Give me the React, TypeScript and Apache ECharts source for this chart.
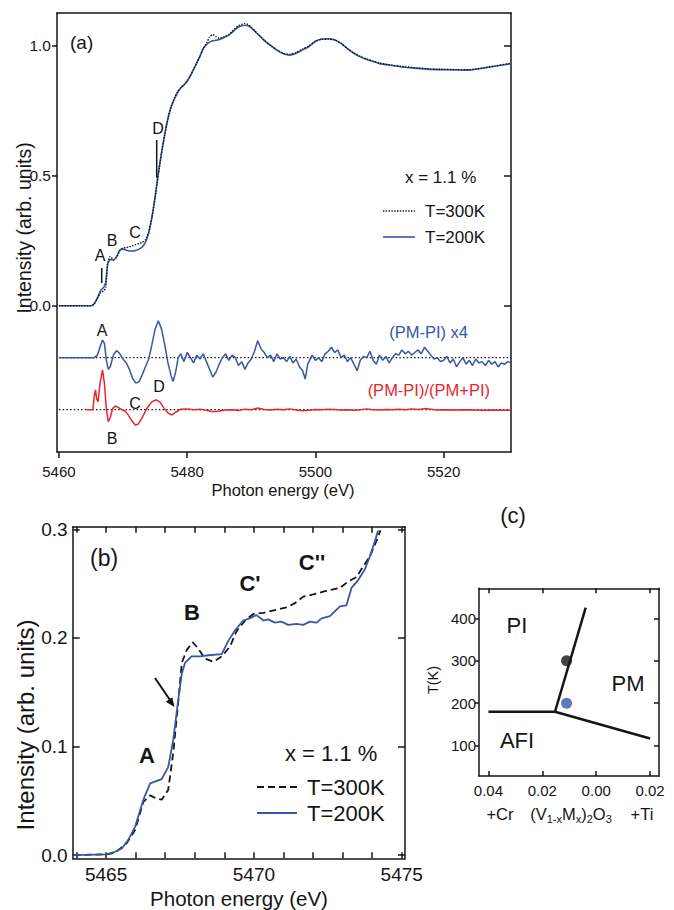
import React, { useEffect, useRef } from "react";
import * as echarts from "echarts";

// ---------- Panel (a): XANES spectra (energy eV, intensity) ----------
const spec200A: [number, number][] = [
  [5460, 0], [5465, 0], [5465.5, 0.008], [5466, 0.03], [5466.5, 0.058], [5467, 0.072], [5467.3, 0.09],
  [5467.6, 0.16], [5468, 0.178], [5468.5, 0.176], [5469, 0.19], [5469.5, 0.215], [5470, 0.218],
  [5470.5, 0.214], [5471, 0.211], [5471.5, 0.211], [5472, 0.213], [5472.5, 0.218], [5473, 0.226],
  [5473.5, 0.245], [5474, 0.28], [5474.5, 0.34], [5475, 0.42], [5475.5, 0.51], [5476, 0.59],
  [5476.5, 0.66], [5477, 0.72], [5477.5, 0.765], [5478, 0.795], [5478.5, 0.82], [5479, 0.838],
  [5479.5, 0.85], [5480, 0.864], [5480.5, 0.885], [5481, 0.91], [5481.5, 0.935], [5482, 0.96],
  [5482.5, 0.99], [5483, 1.005], [5483.5, 1.015], [5484, 1.02], [5484.5, 1.022], [5485, 1.025],
  [5485.5, 1.03], [5486, 1.036], [5486.5, 1.042], [5487, 1.052], [5487.5, 1.064], [5488, 1.073],
  [5488.5, 1.078], [5489, 1.08], [5489.5, 1.078], [5490, 1.07], [5490.5, 1.058], [5491, 1.046],
  [5491.5, 1.034], [5492, 1.022], [5493, 1.002], [5494, 0.984], [5495, 0.97], [5496, 0.965],
  [5497, 0.972], [5498, 0.985], [5499, 0.998], [5500, 1.018], [5501, 1.027], [5502, 1.028],
  [5503, 1.024], [5504, 1.01], [5505, 0.99], [5506, 0.972], [5507, 0.958], [5508, 0.948],
  [5509, 0.94], [5510, 0.932], [5512, 0.925], [5514, 0.918], [5516, 0.914], [5518, 0.91],
  [5520, 0.909], [5522, 0.908], [5524, 0.907], [5526, 0.914], [5528, 0.922], [5530.5, 0.932],
];

const spec300A: [number, number][] = [
  [5460, 0], [5465, 0], [5465.5, 0.007], [5466, 0.028], [5466.5, 0.05], [5467, 0.058], [5467.3, 0.07],
  [5467.6, 0.16], [5468, 0.19], [5468.5, 0.177], [5469, 0.186], [5469.5, 0.212], [5470, 0.222],
  [5470.5, 0.224], [5471, 0.227], [5471.5, 0.231], [5472, 0.236], [5472.5, 0.24], [5473, 0.244],
  [5473.5, 0.255], [5474, 0.285], [5474.5, 0.34], [5475, 0.415], [5475.5, 0.505], [5476, 0.585],
  [5476.5, 0.658], [5477, 0.722], [5477.5, 0.768], [5478, 0.8], [5478.5, 0.824], [5479, 0.84],
  [5479.5, 0.852], [5480, 0.866], [5480.5, 0.886], [5481, 0.91], [5481.5, 0.935], [5482, 0.962],
  [5482.5, 0.99], [5483, 1.01], [5483.5, 1.035], [5484, 1.044], [5484.5, 1.036], [5485, 1.03],
  [5485.5, 1.032], [5486, 1.037], [5486.5, 1.044], [5487, 1.056], [5487.5, 1.068], [5488, 1.078],
  [5488.5, 1.083], [5489, 1.087], [5489.5, 1.082], [5490, 1.072], [5490.5, 1.06], [5491, 1.046],
  [5491.5, 1.034], [5492, 1.022], [5493, 1.002], [5494, 0.985], [5495, 0.972], [5496, 0.968],
  [5497, 0.975], [5498, 0.988], [5499, 1.0], [5500, 1.018], [5501, 1.026], [5502, 1.026],
  [5503, 1.023], [5504, 1.01], [5505, 0.99], [5506, 0.973], [5507, 0.96], [5508, 0.95],
  [5509, 0.942], [5510, 0.934], [5512, 0.926], [5514, 0.92], [5516, 0.915], [5518, 0.911],
  [5520, 0.91], [5522, 0.909], [5524, 0.909], [5526, 0.915], [5528, 0.923], [5530.5, 0.934],
];

// (PM-PI) x4, offset -0.2
const diffA: [number, number][] = [
  [5460, -0.2], [5465, -0.2], [5465.5, -0.2], [5466, -0.19], [5466.4, -0.16], [5466.8, -0.132],
  [5467.1, -0.145], [5467.4, -0.21], [5467.7, -0.245], [5468, -0.235], [5468.5, -0.19], [5469, -0.172],
  [5469.5, -0.185], [5470, -0.205], [5470.5, -0.22], [5471, -0.245], [5471.5, -0.28], [5472, -0.298],
  [5472.5, -0.292], [5473, -0.265], [5473.5, -0.235], [5474, -0.205], [5474.5, -0.15], [5475, -0.09],
  [5475.5, -0.058], [5476, -0.09], [5476.5, -0.15], [5477, -0.22], [5477.5, -0.27], [5477.8, -0.292],
  [5478.2, -0.255], [5478.6, -0.2], [5479, -0.185], [5479.5, -0.215], [5480, -0.18], [5480.5, -0.2],
  [5481, -0.22], [5481.5, -0.19], [5482, -0.205], [5482.5, -0.185], [5483, -0.215], [5483.5, -0.245],
  [5484, -0.275], [5484.5, -0.255], [5485, -0.225], [5485.5, -0.2], [5486, -0.185], [5486.5, -0.21],
  [5487, -0.19], [5487.5, -0.2], [5488, -0.23], [5488.5, -0.215], [5489, -0.245], [5489.5, -0.22],
  [5490, -0.205], [5490.5, -0.175], [5491, -0.135], [5491.5, -0.165], [5492, -0.18], [5492.5, -0.2],
  [5493, -0.19], [5493.5, -0.215], [5494, -0.185], [5494.5, -0.205], [5495, -0.2], [5495.5, -0.215],
  [5496, -0.195], [5496.5, -0.22], [5497, -0.205], [5497.5, -0.235], [5498, -0.25], [5498.4, -0.282],
  [5498.8, -0.225], [5499.5, -0.19], [5500, -0.21], [5500.5, -0.2], [5501, -0.215], [5501.5, -0.185],
  [5502, -0.175], [5502.5, -0.16], [5503, -0.18], [5503.5, -0.17], [5504, -0.2], [5504.5, -0.19],
  [5505, -0.215], [5505.5, -0.2], [5506, -0.225], [5506.5, -0.25], [5507, -0.21], [5507.5, -0.195],
  [5508, -0.2], [5508.5, -0.175], [5509, -0.21], [5509.5, -0.225], [5510, -0.19], [5510.5, -0.21],
  [5511, -0.195], [5511.5, -0.22], [5512, -0.2], [5512.5, -0.185], [5513, -0.19], [5513.5, -0.17],
  [5514, -0.185], [5514.5, -0.175], [5515, -0.19], [5515.5, -0.18], [5516, -0.17], [5516.5, -0.185],
  [5517, -0.16], [5517.5, -0.175], [5518, -0.19], [5518.5, -0.205], [5519, -0.2], [5519.5, -0.215],
  [5520, -0.21], [5520.5, -0.195], [5521, -0.22], [5521.5, -0.205], [5522, -0.235], [5522.5, -0.215],
  [5523, -0.2], [5523.5, -0.225], [5524, -0.21], [5524.5, -0.23], [5525, -0.205], [5525.5, -0.22],
  [5526, -0.215], [5526.5, -0.23], [5527, -0.21], [5527.5, -0.225], [5528, -0.215], [5528.5, -0.235],
  [5529, -0.22], [5529.5, -0.225], [5530, -0.215], [5530.5, -0.22],
];

// (PM-PI)/(PM+PI), offset -0.4
const ratioA: [number, number][] = [
  [5464.3, -0.4], [5465.3, -0.4], [5465.5, -0.35], [5465.7, -0.324], [5465.9, -0.36], [5466.1, -0.37],
  [5466.4, -0.3], [5466.8, -0.247], [5467.1, -0.3], [5467.4, -0.4], [5467.7, -0.446], [5468, -0.43],
  [5468.4, -0.395], [5468.8, -0.386], [5469.3, -0.392], [5469.8, -0.4], [5470.3, -0.405], [5470.8, -0.42],
  [5471.3, -0.44], [5471.9, -0.459], [5472.4, -0.455], [5473, -0.43], [5473.5, -0.405], [5474, -0.385],
  [5474.5, -0.37], [5475.2, -0.362], [5475.8, -0.372], [5476.4, -0.395], [5477, -0.413], [5477.6, -0.42],
  [5478.2, -0.41], [5479, -0.398], [5480, -0.397], [5481, -0.4], [5482, -0.398], [5483, -0.402],
  [5484, -0.408], [5485, -0.405], [5486, -0.401], [5487, -0.4], [5488, -0.403], [5489, -0.398],
  [5490, -0.4], [5491, -0.394], [5492, -0.399], [5493, -0.401], [5494, -0.398], [5495, -0.4],
  [5496, -0.397], [5497, -0.401], [5498, -0.404], [5499, -0.402], [5500, -0.399], [5501, -0.4],
  [5502, -0.398], [5503, -0.399], [5504, -0.401], [5505, -0.4], [5506, -0.402], [5507, -0.4],
  [5508, -0.397], [5509, -0.4], [5510, -0.401], [5511, -0.399], [5512, -0.4], [5513, -0.398],
  [5514, -0.4], [5515, -0.397], [5516, -0.399], [5517, -0.396], [5518, -0.398], [5519, -0.401],
  [5520, -0.4], [5522, -0.401], [5524, -0.4], [5526, -0.402], [5528, -0.401], [5530.5, -0.402],
];

const baselineDiff: [number, number][] = [[5460, -0.2], [5530.5, -0.2]];
const baselineRatio: [number, number][] = [[5460, -0.4], [5530.5, -0.4]];

const xTicksA = [5460, 5480, 5500, 5520];
const yTicksA = [0, 0.5, 1.0];

// ---------- Panel (b): pre-edge zoom ----------
const spec200B: [number, number][] = [
  [5463.9, 0], [5465.0, 0.0006], [5465.3, 0.003], [5465.53, 0.006], [5465.75, 0.014], [5465.98, 0.026],
  [5466.26, 0.051], [5466.49, 0.066], [5466.88, 0.07], [5467.1, 0.081], [5467.27, 0.106], [5467.44, 0.143],
  [5467.56, 0.167], [5467.67, 0.177], [5467.89, 0.183], [5468.18, 0.183], [5468.46, 0.184], [5468.91, 0.185],
  [5469.13, 0.197], [5469.36, 0.207], [5469.64, 0.216], [5469.86, 0.218], [5470.09, 0.221], [5470.32, 0.216],
  [5470.48, 0.217], [5470.71, 0.214], [5470.93, 0.215], [5471.16, 0.212], [5471.44, 0.213], [5471.67, 0.212],
  [5471.89, 0.215], [5472.12, 0.214], [5472.29, 0.218], [5472.57, 0.22], [5472.91, 0.229], [5473.13, 0.23],
  [5473.3, 0.246], [5473.52, 0.253], [5473.75, 0.263], [5473.92, 0.275], [5474.09, 0.289], [5474.2, 0.299],
];
const spec300B: [number, number][] = [
  [5463.9, 0], [5465.0, 0.0006], [5465.3, 0.002], [5465.7, 0.011], [5465.98, 0.023], [5466.26, 0.049],
  [5466.49, 0.055], [5466.71, 0.052], [5466.88, 0.051], [5467.1, 0.06], [5467.27, 0.094], [5467.44, 0.141],
  [5467.56, 0.177], [5467.73, 0.189], [5467.93, 0.196], [5468.12, 0.19], [5468.34, 0.181], [5468.63, 0.178],
  [5468.91, 0.183], [5469.19, 0.192], [5469.41, 0.206], [5469.7, 0.216], [5469.98, 0.222], [5470.32, 0.223],
  [5470.77, 0.226], [5471.1, 0.228], [5471.39, 0.232], [5471.67, 0.238], [5472.0, 0.24], [5472.4, 0.243],
  [5472.91, 0.246], [5473.19, 0.252], [5473.47, 0.256], [5473.7, 0.266], [5473.92, 0.275], [5474.14, 0.289],
  [5474.28, 0.299],
];
const xTicksB = [5465, 5470, 5475];
const xMinorB = [5464, 5465, 5466, 5467, 5468, 5469, 5470, 5471, 5472, 5473, 5474, 5475];
const yTicksB = [0, 0.1, 0.2, 0.3];

// ---------- Panel (c): phase diagram ----------
const boundaryAFI: [number, number][] = [[-0.04, 180], [-0.0153, 180]];
const boundaryPIPM: [number, number][] = [[-0.0153, 180], [-0.0039, 425]];
const boundaryAFIPM: [number, number][] = [[-0.0153, 180], [0.02, 117]];
const point300: [number, number][] = [[-0.011, 300]];
const point200: [number, number][] = [[-0.011, 200]];
const xTicksC = [-0.04, -0.02, 0, 0.02];
const yTicksC = [100, 200, 300, 400];

const BLUE = "#3a56a8";
const RED = "#e8262c";
const INK = "#151515";
const FONT = "Liberation Sans, Arial, sans-serif";

function frameAxis(grid: number, pos: string, min: number, max: number, ticks: number[] | null, inside: boolean, len: number) {
  return {
    type: "value",
    gridIndex: grid,
    position: pos,
    min,
    max,
    axisLine: { show: true, onZero: false, lineStyle: { color: INK, width: 1.5 } },
    axisTick: ticks
      ? { show: true, inside, length: len, customValues: ticks, lineStyle: { color: INK, width: 1.5 } }
      : { show: false },
    axisLabel: { show: false },
    splitLine: { show: false },
  };
}

function labelAxis(grid: number, pos: string, min: number, max: number, ticks: number[], labels: number[], inside: boolean, len: number, fontSize: number, margin: number, fmt: (v: number) => string) {
  return {
    type: "value",
    gridIndex: grid,
    position: pos,
    min,
    max,
    axisLine: { show: true, onZero: false, lineStyle: { color: INK, width: 1.5 } },
    axisTick: { show: true, inside, length: len, customValues: ticks, lineStyle: { color: INK, width: 1.5 } },
    axisLabel: {
      show: true,
      customValues: labels,
      formatter: fmt,
      fontSize,
      fontFamily: FONT,
      color: INK,
      margin,
    },
    splitLine: { show: false },
  };
}

function txt(x: number, y: number, text: string, size: number, opts: any = {}) {
  const align = opts.align || "center";
  const valign = opts.valign || "middle";
  return {
    type: "text",
    x,
    y,
    rotation: opts.rotation || 0,
    z: 100,
    style: {
      text,
      fill: opts.color || INK,
      fontSize: size,
      fontFamily: FONT,
      fontWeight: opts.bold ? "bold" : "normal",
      align,
      verticalAlign: valign,
      textAlign: align,
      textVerticalAlign: valign,
      rich: opts.rich,
    },
  };
}

function seg(x1: number, y1: number, x2: number, y2: number, stroke: string, width: number, dash?: number[]) {
  return {
    type: "line",
    z: 100,
    shape: { x1, y1, x2, y2 },
    style: { stroke, lineWidth: width, lineDash: dash },
  };
}

export default function App() {
  const ref = useRef<HTMLDivElement>(null);

  useEffect(() => {
    if (!ref.current) return;
    const chart = echarts.init(ref.current, undefined, { renderer: "svg" });
    const fx1 = (v: number) => v.toFixed(1);
    const fx0 = (v: number) => String(Math.round(v));
    const fxC = (v: number) => Math.abs(v).toFixed(2);

    const option: any = {
      animation: false,
      backgroundColor: "#ffffff",
      grid: [
        { left: 57, top: 13, width: 454, height: 439 },
        { left: 72.7, top: 526.7, width: 332.3, height: 331.6 },
        { left: 479, top: 588.3, width: 180, height: 187.7 },
      ],
      xAxis: [
        labelAxis(0, "bottom", 5459.7, 5530.5, xTicksA, xTicksA, false, 6, 15, 12, fx0),
        frameAxis(0, "top", 5459.7, 5530.5, null, true, 0),
        labelAxis(1, "bottom", 5463.87, 5475.11, xMinorB, xTicksB, true, 6, 19, 7, fx0),
        frameAxis(1, "top", 5463.87, 5475.11, xMinorB, true, 6),
        labelAxis(2, "bottom", -0.0435, 0.0233, xTicksC, xTicksC, true, 5, 15, 7, fxC),
        frameAxis(2, "top", -0.0435, 0.0233, xTicksC, true, 5),
      ],
      yAxis: [
        labelAxis(0, "left", -0.563, 1.127, yTicksA, yTicksA, false, 5, 15.5, 6, fx1),
        frameAxis(0, "right", -0.563, 1.127, yTicksA, true, 7),
        labelAxis(1, "left", -0.003, 0.3024, yTicksB, yTicksB, true, 7, 19, 5, fx1),
        frameAxis(1, "right", -0.003, 0.3024, yTicksB, true, 7),
        labelAxis(2, "left", 28.7, 470.6, yTicksC, yTicksC, false, 4, 15, 3, fx0),
        frameAxis(2, "right", 28.7, 470.6, yTicksC, true, 5),
      ],
      series: [
        // panel (a)
        { type: "line", xAxisIndex: 0, yAxisIndex: 0, data: baselineDiff, showSymbol: false, lineStyle: { color: INK, width: 1.3, type: [1.5, 2.2] } },
        { type: "line", xAxisIndex: 0, yAxisIndex: 0, data: baselineRatio, showSymbol: false, lineStyle: { color: INK, width: 1.3, type: [1.5, 2.2] } },
        { type: "line", xAxisIndex: 0, yAxisIndex: 0, data: spec200A, showSymbol: false, smooth: 0.2, lineStyle: { color: BLUE, width: 1.6 } },
        { type: "line", xAxisIndex: 0, yAxisIndex: 0, data: spec300A, showSymbol: false, smooth: 0.2, lineStyle: { color: INK, width: 1.4, type: [1.4, 1.4] } },
        { type: "line", xAxisIndex: 0, yAxisIndex: 0, data: diffA, showSymbol: false, lineStyle: { color: BLUE, width: 1.5 } },
        { type: "line", xAxisIndex: 0, yAxisIndex: 0, data: ratioA, showSymbol: false, lineStyle: { color: RED, width: 1.5 } },
        // panel (b)
        { type: "line", xAxisIndex: 2, yAxisIndex: 2, data: spec300B, showSymbol: false, lineStyle: { color: INK, width: 1.8, type: [7, 4] } },
        { type: "line", xAxisIndex: 2, yAxisIndex: 2, data: spec200B, showSymbol: false, lineStyle: { color: BLUE, width: 1.8 } },
        // panel (c)
        { type: "line", xAxisIndex: 4, yAxisIndex: 4, data: boundaryAFI, showSymbol: false, lineStyle: { color: INK, width: 2.5 } },
        { type: "line", xAxisIndex: 4, yAxisIndex: 4, data: boundaryPIPM, showSymbol: false, lineStyle: { color: INK, width: 2.5 } },
        { type: "line", xAxisIndex: 4, yAxisIndex: 4, data: boundaryAFIPM, showSymbol: false, lineStyle: { color: INK, width: 2.5 } },
        { type: "scatter", xAxisIndex: 4, yAxisIndex: 4, data: point300, symbolSize: 11, itemStyle: { color: INK }, z: 5 },
        { type: "scatter", xAxisIndex: 4, yAxisIndex: 4, data: point200, symbolSize: 11, itemStyle: { color: BLUE }, z: 5 },
      ],
      graphic: [
        // panel (a) texts
        txt(24, 228, "Intensity (arb. units)", 19.5, { rotation: Math.PI / 2 }),
        txt(283, 490, "Photon energy (eV)", 16.5),
        txt(70, 42, "(a)", 19, { align: "left" }),
        txt(158, 128, "D", 16),
        seg(156.7, 140, 156.7, 177.7, INK, 1.5),
        txt(135, 232, "C", 16),
        txt(112, 240, "B", 16),
        txt(100, 255, "A", 16),
        seg(101.7, 268, 101.7, 283, INK, 1.5),
        txt(405, 177, "x = 1.1 %", 17, { align: "left" }),
        seg(383, 211, 415, 211, INK, 1.4, [1.4, 1.4]),
        txt(425, 211, "T=300K", 17, { align: "left" }),
        seg(383, 237, 415, 237, BLUE, 1.6),
        txt(425, 237, "T=200K", 17, { align: "left" }),
        txt(468, 332, "(PM-PI) x4", 16.5, { align: "right", color: BLUE }),
        txt(490, 390, "(PM-PI)/(PM+PI)", 16.5, { align: "right", color: RED }),
        txt(102, 330, "A", 16),
        txt(159, 386, "D", 16),
        txt(135, 403, "C", 16),
        txt(112, 438, "B", 16),
        // panel (b) texts
        txt(25, 725, "Intensity (arb. units)", 24, { rotation: Math.PI / 2 }),
        txt(239, 898, "Photon energy (eV)", 20.5),
        txt(90, 558, "(b)", 23, { align: "left" }),
        txt(147, 755, "A", 22, { bold: true }),
        txt(192, 612, "B", 22, { bold: true }),
        txt(250, 583, "C'", 22, { bold: true }),
        txt(312, 562, "C''", 22, { bold: true }),
        seg(155, 678, 170, 700, INK, 2),
        { type: "polygon", z: 100, shape: { points: [[174.5, 707], [172.3, 697.3], [165.7, 701.7]] }, style: { fill: INK } },
        txt(285, 753, "x = 1.1 %", 22, { align: "left" }),
        seg(257, 787, 297, 787, INK, 1.8, [7, 4]),
        txt(307, 787, "T=300K", 22, { align: "left" }),
        seg(257, 813, 297, 813, BLUE, 1.8),
        txt(307, 813, "T=200K", 22, { align: "left" }),
        // panel (c) texts
        txt(513, 515, "(c)", 22),
        txt(433, 680, "T(K)", 14.5, { rotation: Math.PI / 2 }),
        txt(517, 625, "PI", 22),
        txt(628, 683, "PM", 22),
        txt(517, 740, "AFI", 22),
        txt(500, 814, "+Cr", 16.5),
        txt(642, 814, "+Ti", 16.5),
        txt(571, 814, "(V{s|1-x}M{s|x}){s|2}O{s|3}", 16.5, {
          rich: { s: { fontSize: 11, fontFamily: FONT, fill: INK, padding: [9, 0, 0, 0] } },
        }),
      ],
    };
    chart.setOption(option);
    return () => chart.dispose();
  }, []);

  return (
    <div
      ref={ref}
      style={{ position: "absolute", left: 0, top: 0, width: 674, height: 910, background: "#fff" }}
    />
  );
}
